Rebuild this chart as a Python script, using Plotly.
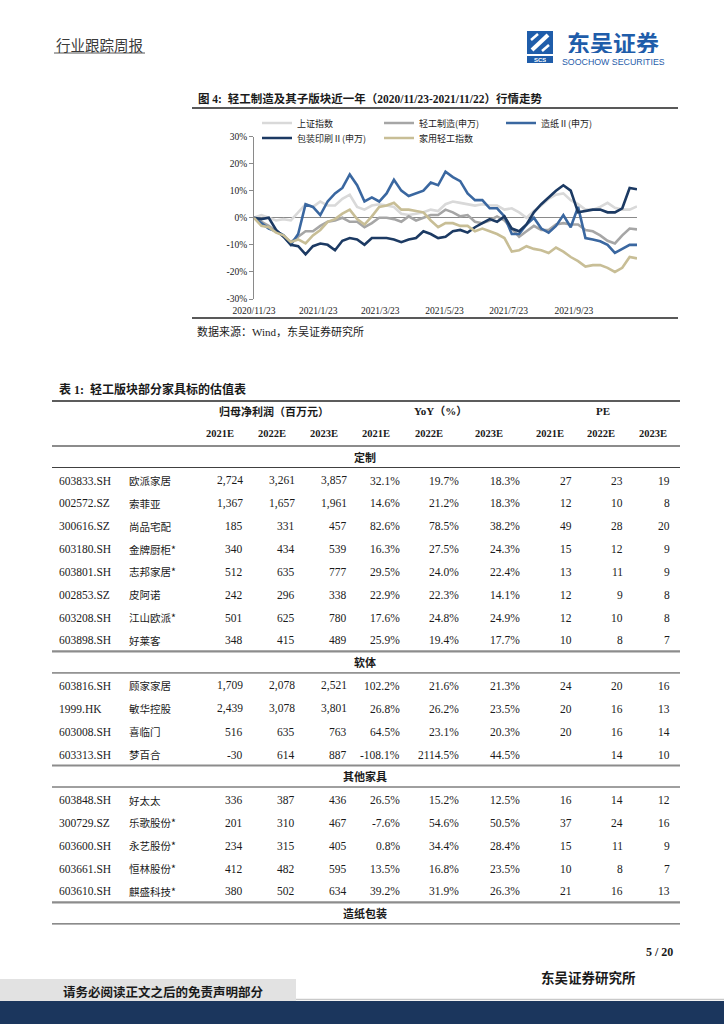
import plotly.graph_objects as go

W, H = 724, 1024

# ---------------- chart data (weekly readings, % change) ----------------
dates = [
    "2020-11-23", "2020-11-30", "2020-12-07", "2020-12-14", "2020-12-21", "2020-12-28",
    "2021-01-04", "2021-01-11", "2021-01-18", "2021-01-25", "2021-02-01", "2021-02-08",
    "2021-02-15", "2021-02-22", "2021-03-01", "2021-03-08", "2021-03-15", "2021-03-22",
    "2021-03-29", "2021-04-05", "2021-04-12", "2021-04-19", "2021-04-26", "2021-05-03",
    "2021-05-10", "2021-05-17", "2021-05-24", "2021-05-31", "2021-06-07", "2021-06-14",
    "2021-06-21", "2021-06-28", "2021-07-05", "2021-07-12", "2021-07-19", "2021-07-26",
    "2021-08-02", "2021-08-09", "2021-08-16", "2021-08-23", "2021-08-30", "2021-09-06",
    "2021-09-13", "2021-09-20", "2021-09-27", "2021-10-04", "2021-10-11", "2021-10-18",
    "2021-10-25", "2021-11-01", "2021-11-08", "2021-11-15", "2021-11-22",
]

sh_index = [0, 1, 0, -1, -0.5, -1, 2, 5, 4, 6, 4.5, 4.5, 7, 8.5, 4, 3, 4.5, 5, 4.5, 4,
            1.5, 1, 1.5, 2, 3, 2.5, 5, 6, 5.5, 5, 4.5, 5, 4.5, 4.5, 3, 3.5, 2, 0, 2.5, 4.5,
            7, 8.5, 9, 6.5, 5, 3, 3, 4, 5.5, 3.7, 3, 3, 4.2]
light_ind = [0, -1.5, -3, -5, -6.5, -9, -7, -5, -5, -3, -1.5, -1, 0, -1.5, -1.5, -3.5, -2, 0, 0, -0.5,
             -1.5, 0.5, -1, 0, 1, 1, 3, 2, 0.5, 1, -1.5, -2, -1, 0.5, -1, -4, -7, -5, -3, -4.5,
             -4.5, -2.5, -2, -2.5, -2.5, -4.5, -5, -6.5, -8.5, -9.5, -6.5, -4, -4.3]
paper_ii = [0, -2, -4, -5, -6.5, -10, -6, 5, 4, 1, 6, 9, 11, 16, 12, 6, 7.5, 6, 9, 14,
            10, 8, 9, 10, 13, 12, 17, 15, 13.5, 9, 6.5, 6.5, 3.5, 3.5, 0.5, -6, -6, -2.5, 0, -4,
            -5.5, -3, 1, -3.5, 4, -7.5, -8, -8.7, -10, -13, -11.5, -10, -10]
packaging_ii = [0, -0.5, 0, -4.5, -7, -10, -10.5, -13.5, -10.5, -9.5, -10, -12, -8.5, -7.5, -8, -10, -7.5, -7.5, -7.5, -8,
                -9, -8, -7.5, -5, -6, -7.5, -7, -5, -4.5, -5.5, -3.5, -2, -0.5, -1.5, 0.5, -4, -5, -2.5, 2, 5,
                7.5, 10, 12, 10, 2, 2.5, 3, 3, 2, 2, 3.5, 11, 10.5]
household = [0, -3, -3.5, -5.5, -6.5, -9, -8, -9.5, -6.5, -4.5, -1.5, -0.5, 1.5, 3, -0.5, -2.5, 0.5, 4, 4.5, 5.5,
             3, 3, 2.5, 2, -1, -3.5, -2, -2, -3, -3, -5, -4, -5, -6, -7.5, -12.5, -12, -10.5, -11.5, -12,
             -13, -11, -12.5, -14.5, -16, -18, -17.5, -17.5, -18.5, -20, -18.5, -14.5, -15]

series_names = ["上证指数", "轻工制造(申万)", "造纸Ⅱ(申万)", "包装印刷Ⅱ(申万)", "家用轻工指数"]
x_tick_dates = ["2020-11-23", "2021-01-23", "2021-03-23", "2021-05-23", "2021-07-23", "2021-09-23"]
x_tick_labels = ["2020/11/23", "2021/1/23", "2021/3/23", "2021/5/23", "2021/7/23", "2021/9/23"]
y_tick_vals = [-30, -20, -10, 0, 10, 20, 30]
y_tick_labels = ["-30%", "-20%", "-10%", "0%", "10%", "20%", "30%"]

# ---------------- table data ----------------
group_headers = ["归母净利润（百万元）", "YoY（%）", "PE"]
year_headers = ["2021E", "2022E", "2023E"]
sections = ["定制", "软体", "其他家具", "造纸包装"]
row_section = [0] * 8 + [1] * 4 + [2] * 5
codes = ["603833.SH", "002572.SZ", "300616.SZ", "603180.SH", "603801.SH", "002853.SZ", "603208.SH", "603898.SH",
         "603816.SH", "1999.HK", "603008.SH", "603313.SH",
         "603848.SH", "300729.SZ", "603600.SH", "603661.SH", "603610.SH"]
names = ["欧派家居", "索菲亚", "尚品宅配", "金牌厨柜*", "志邦家居*", "皮阿诺", "江山欧派*", "好莱客",
         "顾家家居", "敏华控股", "喜临门", "梦百合",
         "好太太", "乐歌股份*", "永艺股份*", "恒林股份*", "麒盛科技*"]
profit_2021 = [2724, 1367, 185, 340, 512, 242, 501, 348, 1709, 2439, 516, -30, 336, 201, 234, 412, 380]
profit_2022 = [3261, 1657, 331, 434, 635, 296, 625, 415, 2078, 3078, 635, 614, 387, 310, 315, 482, 502]
profit_2023 = [3857, 1961, 457, 539, 777, 338, 780, 489, 2521, 3801, 763, 887, 436, 467, 405, 595, 634]
yoy_2021 = [32.1, 14.6, 82.6, 16.3, 29.5, 22.9, 17.6, 25.9, 102.2, 26.8, 64.5, -108.1, 26.5, -7.6, 0.8, 13.5, 39.2]
yoy_2022 = [19.7, 21.2, 78.5, 27.5, 24.0, 22.3, 24.8, 19.4, 21.6, 26.2, 23.1, 2114.5, 15.2, 54.6, 34.4, 16.8, 31.9]
yoy_2023 = [18.3, 18.3, 38.2, 24.3, 22.4, 14.1, 24.9, 17.7, 21.3, 23.5, 20.3, 44.5, 12.5, 50.5, 28.4, 23.5, 26.3]
pe_2021 = [27, 12, 49, 15, 13, 12, 12, 10, 24, 20, 20, None, 16, 37, 15, 10, 21]
pe_2022 = [23, 10, 28, 12, 11, 9, 10, 8, 20, 16, 16, 14, 14, 24, 11, 8, 16]
pe_2023 = [19, 8, 20, 9, 9, 8, 8, 7, 16, 13, 14, 10, 12, 16, 9, 7, 13]

# ---------------- styling ----------------
SERIF = "Liberation Serif, Noto Sans CJK SC"
CJK = "Noto Sans CJK SC"
INK = "#1a1a1a"
line_colors = ["#D9D9D9", "#A6A6A6", "#3A67A0", "#1C3A63", "#C8BE96"]
series_values = [sh_index, light_ind, paper_ii, packaging_ii, household]


def px(x):
    return x / W


def py(y):
    return 1 - y / H


fig = go.Figure()
legend_keys = ["legend", "legend2", "legend3", "legend4", "legend5"]
for name, vals, col, lk in zip(series_names, series_values, line_colors, legend_keys):
    fig.add_trace(go.Scatter(x=dates, y=vals, mode="lines", name=name, legend=lk,
                             line=dict(color=col, width=2.6), hoverinfo="skip"))

annotations = []
shapes = []


def text(x, y, s, size, family=SERIF, color=INK, anchor="left", height=None):
    a = dict(xref="paper", yref="paper", x=px(x), y=py(y), text=s,
             showarrow=False, xanchor=anchor, yanchor="middle",
             font=dict(size=size, family=family, color=color))
    if height is not None:
        a["height"] = height
        a["borderpad"] = 0
    annotations.append(a)


def hline(x0, x1, y, width=1, color="#404040"):
    shapes.append(dict(type="line", xref="paper", yref="paper", x0=px(x0), x1=px(x1),
                       y0=py(y), y1=py(y), line=dict(width=width, color=color)))


def rect(x0, y0, x1, y1, fill, line_color=None):
    shapes.append(dict(type="rect", xref="paper", yref="paper", x0=px(x0), x1=px(x1),
                       y0=py(y1), y1=py(y0), fillcolor=fill,
                       line=dict(width=0 if line_color is None else 1, color=line_color or fill)))


# ---- page header ----
text(54, 44, "行业跟踪周报", 14.5, CJK, "#3a3a3a")
hline(54, 145, 53, 1, "#555555")
LOGO = "#1F5DAA"
rect(527, 31, 553, 54, LOGO)
shapes.append(dict(type="line", xref="paper", yref="paper", x0=px(532), y0=py(50), x1=px(548), y1=py(35),
                   line=dict(width=4, color="white")))
shapes.append(dict(type="line", xref="paper", yref="paper", x0=px(531), y0=py(40), x1=px(538), y1=py(34),
                   line=dict(width=2.5, color="white")))
shapes.append(dict(type="line", xref="paper", yref="paper", x0=px(542), y0=py(51), x1=px(549), y1=py(45),
                   line=dict(width=2.5, color="white")))
rect(527, 56, 553, 63, LOGO)
text(540, 59.5, "<b>SCS</b>", 6, "Liberation Sans", "white", "center", height=7)
text(613, 42, "<b>东吴证券</b>", 23, CJK, LOGO, "center", height=22)
text(613, 61.5, "SOOCHOW SECURITIES", 8.8, "Liberation Sans", LOGO, "center", height=10)

# ---- figure title & source ----
text(196, 98, "<b>图 4:  轻工制造及其子版块近一年（2020/11/23-2021/11/22）行情走势</b>", 11.5)
hline(192, 678, 108, 1.6, "#222222")
hline(192, 678, 318, 1.6, "#222222")
text(195, 331, "数据来源：Wind，东吴证券研究所", 11, SERIF)

# ---- table ----
text(57, 389, "<b>表 1:  轻工版块部分家具标的估值表</b>", 12)
T_L, T_R = 52, 680
hline(T_L, T_R, 401, 1.6, "#262626")
group_center = [274, 440, 603]
for g, cx in zip(group_headers, group_center):
    text(cx, 411, "<b>" + g + "</b>", 11, SERIF, INK, "center")
year_center = [220, 272, 324, 376, 429, 489, 550, 601, 653]
for i, cx in enumerate(year_center):
    text(cx, 433, "<b>" + year_headers[i % 3] + "</b>", 10.5, SERIF, INK, "center")

col_right = [245, 297, 349, 402, 461, 522, 574, 625, 672]
ROW_H = 22.85
line_y = 446
hline(T_L, T_R, line_y, 2.2, "#8c8c8c")
for s_idx, sec in enumerate(sections):
    text(365, line_y + 10.5, "<b>" + sec + "</b>", 11, CJK, INK, "center")
    line_y += 21.5
    hline(T_L, T_R, line_y, 1, "#404040")
    rows = [i for i, r in enumerate(row_section) if r == s_idx]
    if not rows:
        break
    for j, i in enumerate(rows):
        ry = line_y + 13 + j * ROW_H
        text(57, ry, codes[i], 11.5)
        text(127, ry, names[i], 10.5, CJK)
        cells = [f"{profit_2021[i]:,}", f"{profit_2022[i]:,}", f"{profit_2023[i]:,}",
                 f"{yoy_2021[i]:.1f}%", f"{yoy_2022[i]:.1f}%", f"{yoy_2023[i]:.1f}%",
                 "" if pe_2021[i] is None else str(pe_2021[i]), str(pe_2022[i]), str(pe_2023[i])]
        for c, rx in zip(cells, col_right):
            if c:
                text(rx, ry, c, 11.5, SERIF, INK, "right")
    line_y = line_y + 13 + (len(rows) - 1) * ROW_H + 11
    hline(T_L, T_R, line_y, 2.2, "#8c8c8c")

# ---- footer ----
text(675, 952, "<b>5 / 20</b>", 12, SERIF, INK, "right")
text(588, 977, "<b>东吴证券研究所</b>", 13.5, CJK, INK, "center")
rect(0, 979, 296, 1001, "#e2e2e2")
hline(296, 724, 999.5, 1.5, "#c9c9c9")
rect(0, 1001, 724, 1024, "#1B365D")
text(163, 991, "<b>请务必阅读正文之后的免责声明部分</b>", 12.5, CJK, INK, "center")

# ---- legends (one per entry, placed as in the reference) ----
legend_pos = [(257, 123), (379, 123), (501, 123), (257, 138), (379, 138)]
layout_legends = {}
for lk, (lx, ly) in zip(legend_keys, legend_pos):
    layout_legends[lk] = dict(x=px(lx), y=py(ly), xanchor="left", yanchor="middle",
                              orientation="h", bgcolor="rgba(0,0,0,0)", borderwidth=0,
                              itemwidth=30, font=dict(size=9, family=CJK, color=INK))

fig.update_layout(
    width=W, height=H, margin=dict(l=0, r=0, t=0, b=0, autoexpand=False),
    paper_bgcolor="white", plot_bgcolor="white", showlegend=True,
    annotations=annotations, shapes=shapes,
    xaxis=dict(domain=[px(254), px(637)], type="date", range=["2020-11-23", "2021-11-22"],
               tickvals=x_tick_dates, ticktext=x_tick_labels, showgrid=False, showline=False,
               zeroline=False, ticks="", ticklabelstandoff=4, automargin=False,
               tickfont=dict(size=9.5, family=SERIF, color=INK)),
    yaxis=dict(domain=[py(299), py(136.5)], range=[-30, 30], tickvals=y_tick_vals,
               ticktext=y_tick_labels, showgrid=False, showline=True, linecolor="#8a8a8a",
               linewidth=1, ticks="outside", ticklen=4, tickcolor="#8a8a8a", automargin=False,
               zeroline=True, zerolinecolor="#8a8a8a", zerolinewidth=1,
               tickfont=dict(size=9.5, family=SERIF, color=INK)),
    **layout_legends,
)

fig.write_html("out.html", config={"displayModeBar": False},
               post_script="document.body.style.margin='0';document.body.style.overflow='hidden';")
